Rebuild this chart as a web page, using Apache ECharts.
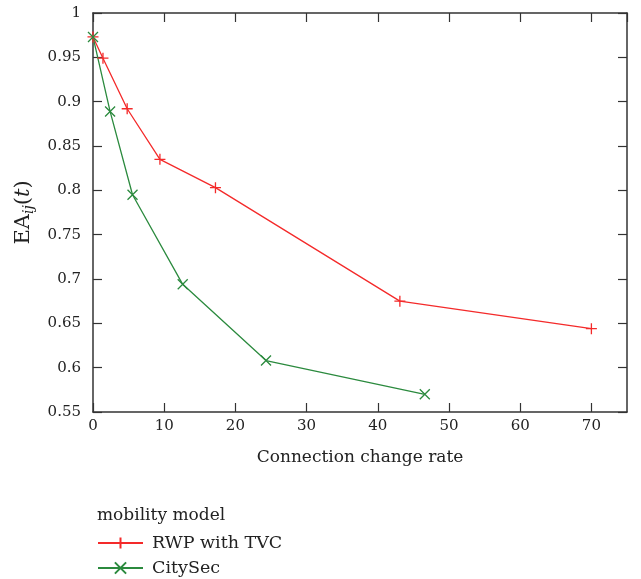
<!DOCTYPE html>
<html>
<head>
<meta charset="utf-8">
<script src="https://cdn.jsdelivr.net/npm/echarts@6/dist/echarts.min.js"></script>
<style>
  html, body { margin: 0; padding: 0; background: #fff; }
  #chart { width: 641px; height: 579px; }
</style>
</head>
<body>
<div id="chart"></div>
<script>
// values
const rwpX = [0, 1.4, 4.8, 9.4, 17.2, 43.1, 70];
const rwpY = [0.973, 0.949, 0.892, 0.835, 0.803, 0.675, 0.644];
const cityX = [0, 2.4, 5.55, 12.6, 24.3, 46.6];
const cityY = [0.973, 0.889, 0.795, 0.694, 0.608, 0.570];
const seriesNames = ['RWP with TVC', 'CitySec'];

const font = 'DejaVu Serif';
const axisColor = '#333';
const textColor = '#222';
const red = '#f42a2a';
const green = '#2b8a3e';

const plusPath = 'path://M0,5L10,5M5,0L5,10';
const crossPath = 'path://M0,0L10,10M0,10L10,0';

function pairs(xs, ys) {
  return xs.map((x, i) => [x, ys[i]]);
}

const chart = echarts.init(document.getElementById('chart'));

const tick = { inside: true, length: 9, lineStyle: { color: axisColor, width: 1.2 } };
const line = { onZero: false, lineStyle: { color: axisColor, width: 1.5 } };

const baseX = {
  type: 'value', min: 0, max: 75, interval: 10,
  splitLine: { show: false }, axisLine: line, axisTick: tick
};
const baseY = {
  type: 'value', min: 0.55, max: 1, interval: 0.05,
  splitLine: { show: false }, axisLine: line, axisTick: tick
};

// one legend box per entry so they stack
function legendFor(name, top) {
  return {
    orient: 'vertical',
    left: 92, top: top,
    itemWidth: 45, itemHeight: 14,
    textStyle: { fontFamily: font, fontSize: 17.5, color: textColor, padding: [0, 0, 0, 4] },
    data: [name]
  };
}

const option = {
  animation: false,
  textStyle: { fontFamily: font },
  grid: { left: 93, right: 14, top: 13, bottom: 167 },
  title: {
    text: 'mobility model',
    left: 92, top: 502,
    textStyle: { fontFamily: font, fontSize: 17, fontWeight: 'normal', color: textColor }
  },
  legend: [legendFor(seriesNames[0], 529), legendFor(seriesNames[1], 554)],
  xAxis: [
    Object.assign({}, baseX, {
      position: 'bottom',
      name: 'Connection change rate',
      nameLocation: 'middle', nameGap: 37,
      nameTextStyle: { fontFamily: font, fontSize: 17, color: textColor },
      axisLabel: { margin: 7, fontFamily: font, fontSize: 15, color: textColor, showMaxLabel: false }
    }),
    Object.assign({}, baseX, { position: 'top', axisLabel: { show: false } })
  ],
  yAxis: [
    Object.assign({}, baseY, {
      position: 'left',
      name: '{n|EA}{s|ij}{n|(}{i|t}{n|)}',
      nameLocation: 'middle', nameRotate: 90, nameGap: 52,
      nameTextStyle: {
        rich: {
          n: { fontFamily: font, fontSize: 21, color: textColor, lineHeight: 26 },
          i: { fontFamily: font, fontSize: 21, fontStyle: 'italic', color: textColor, lineHeight: 26 },
          s: { fontFamily: font, fontSize: 14, fontStyle: 'italic', color: textColor, lineHeight: 12, verticalAlign: 'bottom' }
        }
      },
      axisLabel: { margin: 12, fontFamily: font, fontSize: 15, color: textColor }
    }),
    Object.assign({}, baseY, { position: 'right', axisLabel: { show: false } })
  ],
  series: [
    {
      name: seriesNames[0], type: 'line',
      xAxisIndex: 0, yAxisIndex: 0,
      data: pairs(rwpX, rwpY),
      symbol: plusPath, symbolSize: 11,
      lineStyle: { color: red, width: 1.3 },
      itemStyle: { color: red, borderColor: red, borderWidth: 1.3 }
    },
    {
      name: seriesNames[1], type: 'line',
      xAxisIndex: 0, yAxisIndex: 0,
      data: pairs(cityX, cityY),
      symbol: crossPath, symbolSize: 10,
      lineStyle: { color: green, width: 1.3 },
      itemStyle: { color: green, borderColor: green, borderWidth: 1.3 }
    }
  ]
};

chart.setOption(option);
</script>
</body>
</html>
